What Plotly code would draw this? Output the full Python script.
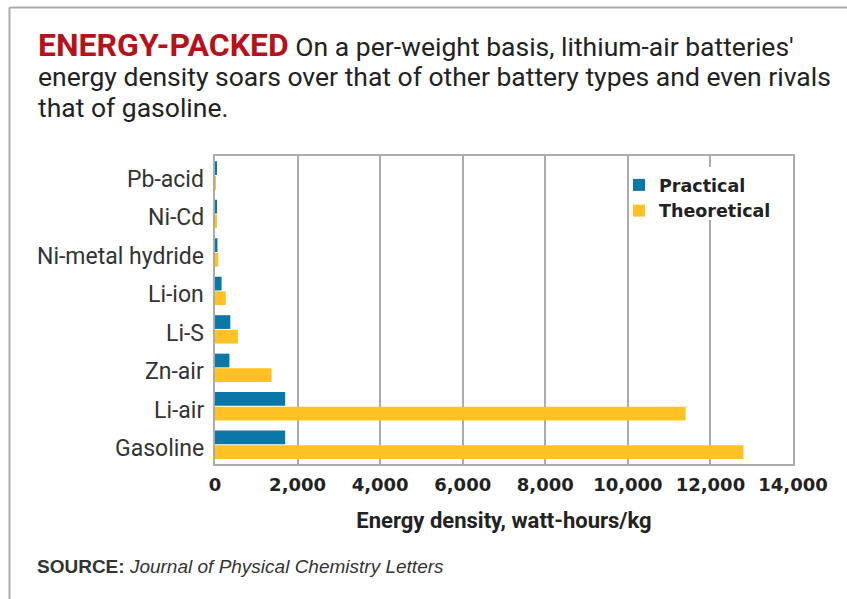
import plotly.graph_objects as go

categories = ["Pb-acid", "Ni-Cd", "Ni-metal hydride", "Li-ion", "Li-S", "Zn-air", "Li-air", "Gasoline"]
practical = [40, 50, 60, 160, 370, 350, 1700, 1700]
theoretical = [20, 45, 80, 260, 555, 1370, 11400, 12800]
x_ticks = [0, 2000, 4000, 6000, 8000, 10000, 12000, 14000]
x_tick_labels = ["0", "2,000", "4,000", "6,000", "8,000", "10,000", "12,000", "14,000"]

W, H = 847, 599
L, R, T, B = 215, 54, 156, 135
PW, PH = W - L - R, H - T - B


def px(x):
    return (x - L) / PW


def py(y):
    return (H - B - y) / PH


BLUE = "#0a77a6"
YELLOW = "#fec224"
GRID = "#ababab"

fig = go.Figure()
fig.add_trace(go.Bar(y=categories, x=practical, orientation="h", name="Practical",
                     marker=dict(color=BLUE, line=dict(width=0))))
fig.add_trace(go.Bar(y=categories, x=theoretical, orientation="h", name="Theoretical",
                     marker=dict(color=YELLOW, line=dict(width=0))))

fig.update_layout(
    width=W, height=H,
    margin=dict(l=L, r=R, t=T, b=B, pad=0),
    paper_bgcolor="white", plot_bgcolor="white",
    barmode="group", bargap=0.24, bargroupgap=0.06,
    showlegend=True,
    legend=dict(x=px(619), y=py(167), xanchor="left", yanchor="top",
                bgcolor="rgba(0,0,0,0)", borderwidth=0,
                font=dict(family="DejaVu Sans", size=17.5, color="#222", weight="bold"),
                itemwidth=30, tracegroupgap=0, traceorder="normal"),
    font=dict(family="Roboto", color="#333"),
)

fig.update_xaxes(range=[0, 14000], tickvals=x_ticks, ticktext=x_tick_labels,
                 showgrid=True, gridcolor=GRID, gridwidth=2,
                 showline=True, linecolor=GRID, linewidth=2, mirror=True,
                 ticks="", zeroline=False, ticklabelstandoff=3,
                 tickfont=dict(family="DejaVu Sans", size=18, color="#222", weight="bold"),
                 title=dict(text="<b>Energy density, watt-hours/kg</b>",
                            font=dict(family="Roboto", size=22, color="#222"), standoff=19))
fig.update_yaxes(categoryorder="array", categoryarray=categories, autorange="reversed",
                 showgrid=False, showline=True, linecolor=GRID, linewidth=2, mirror=True,
                 ticks="", showticklabels=False)

# category labels (slightly below band centre, as in the reference)
for cat in categories:
    fig.add_annotation(text=cat, xref="paper", yref="y", x=px(206), y=cat,
                       xanchor="right", yanchor="middle", yshift=-4, showarrow=False,
                       font=dict(family="Roboto", size=23, color="#333"))

# white box behind the legend hiding gridlines
fig.add_shape(type="rect", xref="paper", yref="paper",
              x0=px(633), x1=px(786), y0=py(220), y1=py(167),
              fillcolor="white", line=dict(width=0), layer="above")

# outer frame lines (left and top)
fig.add_shape(type="line", xref="paper", yref="paper",
              x0=px(9.5), x1=px(9.5), y0=py(7.5), y1=py(599), line=dict(color="#aaaaaa", width=2))
fig.add_shape(type="line", xref="paper", yref="paper",
              x0=px(9.5), x1=px(847), y0=py(7.5), y1=py(7.5), line=dict(color="#aaaaaa", width=2))

title_lines = [
    "<span style='color:#b5121b;font-size:32px'><b>ENERGY-PACKED</b></span> On a per-weight basis, lithium-air batteries'",
    "energy density soars over that of other battery types and even rivals",
    "that of gasoline.",
]
for txt, yy in zip(title_lines, [45, 77, 108]):
    fig.add_annotation(text=txt, xref="paper", yref="paper", x=px(36), y=py(yy),
                       xanchor="left", yanchor="middle", showarrow=False,
                       font=dict(family="Roboto", size=26.5, color="#222"))

fig.add_annotation(text="<b>SOURCE:</b> <i>Journal of Physical Chemistry Letters</i>",
                   xref="paper", yref="paper", x=px(35), y=py(566),
                   xanchor="left", yanchor="middle", showarrow=False,
                   font=dict(family="Liberation Sans", size=19, color="#333"))

fig.write_html("out.html", config={"displayModeBar": False},
               post_script="document.body.style.margin='0px';document.body.style.overflow='hidden';")
